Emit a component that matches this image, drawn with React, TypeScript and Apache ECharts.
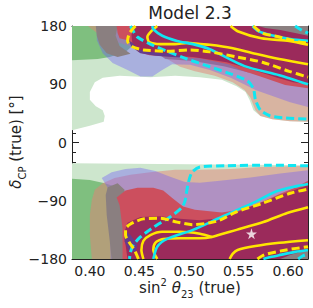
import React, { useEffect, useRef } from 'react';
import * as echarts from 'echarts';

const X_MIN = 0.382;
const X_MAX = 0.62;
const xMajorTicks = [0.4, 0.45, 0.5, 0.55, 0.6];
const xMinorTicks = [0.39, 0.41, 0.42, 0.43, 0.44, 0.46, 0.47, 0.48, 0.49, 0.51, 0.52, 0.53, 0.54, 0.56, 0.57, 0.58, 0.59, 0.61];
const yMin = -180;
const yMax = 180;
const yInterval = 90;

// filled regions (sin^2 theta23, deltaCP)
const lightGreenTop = [[0.382,180],[0.62,180],[0.62,32],[0.602,33],[0.584,36],[0.572,41],[0.565,50],[0.561,66],[0.557,78],[0.548,87],[0.533,97],[0.511,101],[0.486,103],[0.461,101],[0.43,103],[0.413,100],[0.405,93],[0.4,78],[0.4,66],[0.406,56],[0.413,50],[0.415,41],[0.414,32],[0.4,26],[0.382,19]];
const lightGreenBottom = [[0.382,-32],[0.62,-35],[0.62,-180],[0.382,-180]];
const midGreenTop = [[0.382,180],[0.451,180],[0.447,155],[0.436,140],[0.42,132],[0.408,129],[0.382,127]];
const midGreenBottom = [[0.382,-56],[0.4,-58],[0.415,-63],[0.428,-69],[0.436,-81],[0.438,-112],[0.436,-151],[0.435,-180],[0.382,-180]];
const tanTop = [[0.398,180],[0.62,180],[0.62,32],[0.602,33],[0.584,36],[0.572,41],[0.567,50],[0.562,69],[0.556,81],[0.544,93],[0.526,103],[0.506,110],[0.491,117],[0.476,131],[0.456,143],[0.436,151],[0.415,161],[0.405,172]];
const tanBottom = [[0.402,-180],[0.4,-143],[0.4,-112],[0.402,-89],[0.405,-73],[0.413,-63],[0.425,-55],[0.441,-50],[0.461,-46],[0.486,-42],[0.511,-42],[0.542,-41],[0.572,-38],[0.62,-36],[0.62,-180]];
const blueTop = [[0.407,180],[0.62,180],[0.62,55],[0.602,62],[0.582,73],[0.567,81],[0.557,89],[0.542,100],[0.521,112],[0.501,120],[0.483,121],[0.473,112],[0.463,102],[0.451,102],[0.438,112],[0.423,123],[0.413,138],[0.407,158]];
const blueBottom = [[0.412,-55],[0.422,-46],[0.436,-41],[0.451,-39],[0.466,-44],[0.481,-53],[0.496,-61],[0.511,-62],[0.531,-59],[0.562,-54],[0.592,-48],[0.62,-43],[0.62,-180],[0.421,-180],[0.42,-104],[0.418,-70]];
const greyTopLeft = [[0.406,180],[0.428,180],[0.426,165],[0.43,149],[0.441,137],[0.428,132],[0.417,138],[0.41,151],[0.407,165]];
const greyBottomLeft = [[0.418,-69],[0.428,-63],[0.435,-73],[0.435,-180],[0.422,-180],[0.42,-151],[0.417,-112],[0.416,-81]];
const duskTop = [[0.471,135],[0.504,132],[0.538,124],[0.565,112],[0.56,108],[0.535,118],[0.504,126],[0.476,129]];
const redTop = [[0.427,180],[0.62,180],[0.62,84],[0.597,89],[0.572,102],[0.552,112],[0.54,121],[0.511,130],[0.481,133],[0.46,135],[0.449,140],[0.443,150],[0.438,158],[0.43,161],[0.428,169]];
const redBottom = [[0.43,-97],[0.427,-85],[0.436,-74],[0.448,-70],[0.464,-70],[0.474,-74],[0.484,-87],[0.494,-99],[0.506,-104],[0.533,-108],[0.552,-104],[0.572,-93],[0.592,-79],[0.607,-70],[0.62,-59],[0.62,-180],[0.433,-180],[0.433,-133]];
const maroonTop = [[0.444,180],[0.62,180],[0.62,90],[0.605,93],[0.589,100],[0.565,112],[0.538,124],[0.504,132],[0.471,135],[0.449,141],[0.443,151],[0.442,166]];
const maroonBottom = [[0.62,-180],[0.438,-180],[0.436,-158],[0.435,-138],[0.438,-124],[0.451,-115],[0.471,-114],[0.491,-118],[0.511,-120],[0.531,-117],[0.552,-106],[0.572,-93],[0.592,-81],[0.607,-73],[0.62,-66]];
const purpleTop = [[0.439,158],[0.442,148],[0.451,138],[0.466,134],[0.483,132],[0.498,131],[0.483,137],[0.461,140],[0.449,144],[0.443,154]];
const purpleBottom = [[0.435,-135],[0.441,-143],[0.448,-158],[0.446,-169],[0.439,-166],[0.435,-153]];
const greyCornerTop = [[0.57,180],[0.62,180],[0.62,165],[0.607,169],[0.592,174],[0.577,177]];
const greyCornerBottom = [[0.592,-180],[0.602,-174],[0.612,-169],[0.62,-166],[0.62,-180]];

// contour lines
const yellowSolidTop = [[0.468,180],[0.462,172],[0.458,163],[0.46,155],[0.471,152],[0.486,152],[0.498,154],[0.511,152],[0.521,151],[0.543,146],[0.567,137],[0.591,129],[0.62,121]];
const yellowSolidTopRight = [[0.542,180],[0.549,172],[0.573,161],[0.601,157],[0.62,151]];
const yellowSolidBottomRight = [[0.541,-180],[0.544,-172],[0.549,-166],[0.567,-160],[0.591,-155],[0.62,-151]];
const yellowSolidBottomOuter = [[0.454,-180],[0.452,-166],[0.454,-152],[0.461,-143],[0.473,-138],[0.491,-138],[0.511,-141],[0.523,-146]];
const yellowSolidBottomInner = [[0.468,-180],[0.464,-166],[0.466,-155],[0.474,-149],[0.491,-148],[0.511,-148],[0.523,-146],[0.548,-135],[0.575,-123],[0.599,-109],[0.62,-100]];
const yellowDashedTop = [[0.446,180],[0.44,169],[0.438,157],[0.443,148],[0.454,143],[0.478,141],[0.501,143],[0.521,140],[0.549,132],[0.574,124],[0.601,110],[0.62,101]];
const yellowDashedTopRight = [[0.565,180],[0.574,169],[0.591,163],[0.612,155],[0.62,154]];
const yellowDashedBottomRight = [[0.569,-180],[0.574,-175],[0.579,-172],[0.598,-166],[0.62,-161]];
const yellowDashedBottom = [[0.449,-180],[0.445,-166],[0.44,-155],[0.436,-143],[0.436,-134],[0.441,-126],[0.454,-118],[0.471,-117],[0.488,-123],[0.504,-127],[0.521,-124],[0.531,-120],[0.548,-107],[0.572,-95],[0.603,-78],[0.62,-72]];
const cyanDashedTop = [[0.441,180],[0.443,174],[0.448,163],[0.461,152],[0.478,141],[0.498,129],[0.521,117],[0.542,106],[0.559,95],[0.565,83],[0.567,66],[0.572,50],[0.582,41],[0.597,38],[0.62,36]];
const cyanDashedBottom = [[0.62,-36],[0.582,-35],[0.538,-36],[0.511,-38],[0.503,-46],[0.499,-64],[0.496,-90],[0.493,-100],[0.481,-115],[0.464,-131],[0.451,-146],[0.444,-158],[0.441,-169],[0.44,-180]];
const cyanDashedCornerTop = [[0.607,180],[0.612,175],[0.617,171],[0.62,169]];
const cyanDashedCornerBottom = [[0.61,-180],[0.615,-175],[0.62,-172]];
const cyanSolidTop = [[0.463,180],[0.464,175],[0.473,165],[0.488,157],[0.504,152],[0.521,144],[0.556,118],[0.591,104],[0.62,90]];
const cyanSolidBottom = [[0.464,-180],[0.468,-161],[0.478,-149],[0.504,-135],[0.53,-117],[0.565,-93],[0.589,-75],[0.61,-67],[0.62,-64]];
const cyanSolidTopRight = [[0.564,180],[0.57,172],[0.582,166],[0.602,160],[0.62,157]];
const cyanSolidBottomRight = [[0.575,-180],[0.582,-177],[0.591,-174],[0.607,-169],[0.62,-166]];

const bestFit = [[0.563, -141]];

const LG = '#cde6cd';
const MG = '#7fbf7f';
const TAN = 'rgba(228,129,118,0.5)';
const BLUE = 'rgba(110,90,250,0.38)';
const GREY = '#8a7f80';
const DUSK = 'rgba(120,80,130,0.55)';
const RED = '#cc4f5e';
const MAROON = '#9b2a5b';
const PURPLE = '#653b8c';
const YELLOW = '#ffe600';
const CYAN = '#10e6f2';
const FONT = 'DejaVu Sans';
const INK = '#222';

const regions = [
  { pts: lightGreenTop, fill: LG },
  { pts: lightGreenBottom, fill: LG },
  { pts: midGreenTop, fill: MG },
  { pts: midGreenBottom, fill: MG },
  { pts: tanTop, fill: TAN },
  { pts: tanBottom, fill: TAN },
  { pts: blueTop, fill: BLUE },
  { pts: blueBottom, fill: BLUE },
  { pts: greyTopLeft, fill: GREY },
  { pts: greyBottomLeft, fill: GREY },
  { pts: duskTop, fill: DUSK },
  { pts: redTop, fill: RED },
  { pts: redBottom, fill: RED },
  { pts: maroonTop, fill: MAROON },
  { pts: maroonBottom, fill: MAROON },
  { pts: purpleTop, fill: PURPLE },
  { pts: purpleBottom, fill: PURPLE },
  { pts: greyCornerTop, fill: GREY },
  { pts: greyCornerBottom, fill: GREY },
];

const lines = [
  { pts: yellowSolidTop, color: YELLOW, dashed: false },
  { pts: yellowSolidTopRight, color: YELLOW, dashed: false },
  { pts: yellowSolidBottomRight, color: YELLOW, dashed: false },
  { pts: yellowSolidBottomOuter, color: YELLOW, dashed: false },
  { pts: yellowSolidBottomInner, color: YELLOW, dashed: false },
  { pts: cyanDashedTop, color: CYAN, dashed: true },
  { pts: cyanDashedBottom, color: CYAN, dashed: true },
  { pts: cyanDashedCornerTop, color: CYAN, dashed: true },
  { pts: cyanDashedCornerBottom, color: CYAN, dashed: true },
  { pts: cyanSolidTop, color: CYAN, dashed: false },
  { pts: cyanSolidBottom, color: CYAN, dashed: false },
  { pts: cyanSolidTopRight, color: CYAN, dashed: false },
  { pts: cyanSolidBottomRight, color: CYAN, dashed: false },
  { pts: yellowDashedTop, color: YELLOW, dashed: true },
  { pts: yellowDashedTopRight, color: YELLOW, dashed: true },
  { pts: yellowDashedBottomRight, color: YELLOW, dashed: true },
  { pts: yellowDashedBottom, color: YELLOW, dashed: true },
];

const STAR = 'path://M50,0 L61,35 L98,35 L68,57 L79,91 L50,70 L21,91 L32,57 L2,35 L39,35 Z';

export default function App() {
  const ref = useRef<HTMLDivElement>(null);
  useEffect(() => {
    if (!ref.current) return;
    const chart = echarts.init(ref.current, undefined, { renderer: 'svg' });
    const axisLine = { show: true, onZero: false, lineStyle: { color: INK, width: 1 } };
    const noLine = { show: false, onZero: false };
    const tickStyle = { color: INK, width: 1 };
    const fmtY = (v: number) => (v < 0 ? '\u2212' + Math.abs(v) : String(v));
    const xBase = { type: 'value', min: X_MIN, max: X_MAX, splitLine: { show: false } };
    const yBase = { type: 'value', min: yMin, max: yMax, interval: yInterval, splitLine: { show: false } };
    chart.setOption({
      animation: false,
      backgroundColor: '#fff',
      grid: { left: 72, top: 26, right: 5, bottom: 49, containLabel: false },
      xAxis: [
        { ...xBase, position: 'bottom', axisLine,
          axisTick: { show: true, inside: true, length: 7, customValues: xMajorTicks, lineStyle: tickStyle },
          axisLabel: { show: true, customValues: xMajorTicks, formatter: (v: number) => v.toFixed(2), margin: 5, fontSize: 14, fontFamily: FONT, color: INK } },
        { ...xBase, position: 'top', axisLine,
          axisTick: { show: true, inside: true, length: 7, customValues: xMajorTicks, lineStyle: tickStyle },
          axisLabel: { show: false } },
        { ...xBase, position: 'bottom', axisLine: noLine,
          axisTick: { show: true, inside: true, length: 4, customValues: xMinorTicks, lineStyle: tickStyle },
          axisLabel: { show: false } },
        { ...xBase, position: 'top', axisLine: noLine,
          axisTick: { show: true, inside: true, length: 4, customValues: xMinorTicks, lineStyle: tickStyle },
          axisLabel: { show: false } },
      ],
      yAxis: [
        { ...yBase, position: 'left', axisLine,
          axisTick: { show: true, inside: true, length: 7, lineStyle: tickStyle },
          minorTick: { show: true, splitNumber: 6, length: 4, lineStyle: tickStyle },
          axisLabel: { show: true, formatter: fmtY, margin: 5, fontSize: 14, fontFamily: FONT, color: INK } },
        { ...yBase, position: 'right', axisLine,
          axisTick: { show: true, inside: true, length: 7, lineStyle: tickStyle },
          minorTick: { show: true, splitNumber: 6, length: 4, lineStyle: tickStyle },
          axisLabel: { show: false } },
      ],
      graphic: [
        { type: 'text', x: 190, y: 13, silent: true,
          style: { text: 'Model 2.3', fontSize: 17, fontFamily: FONT, fill: INK, align: 'center', verticalAlign: 'middle' } },
        { type: 'text', x: 190, y: 288, silent: true,
          style: {
            text: '{n|sin}{sup|2}{n| }{i|\u03b8}{sub|23}{n| (true)}',
            align: 'center', verticalAlign: 'middle', fill: INK, fontFamily: FONT,
            rich: {
              n: { fontSize: 15, fontFamily: FONT, fill: INK, lineHeight: 22 },
              i: { fontSize: 15, fontFamily: FONT, fontStyle: 'italic', fill: INK, lineHeight: 22 },
              sup: { fontSize: 10, fontFamily: FONT, fill: INK, verticalAlign: 'top', lineHeight: 22 },
              sub: { fontSize: 10, fontFamily: FONT, fill: INK, verticalAlign: 'bottom', lineHeight: 22 },
            },
          } },
        { type: 'text', x: 16, y: 142, rotation: Math.PI / 2, silent: true,
          style: {
            text: '{i|\u03b4}{sub|CP}{n| (true) [\u00b0]}',
            align: 'center', verticalAlign: 'middle', fill: INK, fontFamily: FONT,
            rich: {
              n: { fontSize: 15, fontFamily: FONT, fill: INK, lineHeight: 22 },
              i: { fontSize: 15, fontFamily: FONT, fontStyle: 'italic', fill: INK, lineHeight: 22 },
              sub: { fontSize: 10, fontFamily: FONT, fill: INK, verticalAlign: 'bottom', lineHeight: 22 },
            },
          } },
      ],
      series: [
        {
          type: 'custom',
          xAxisIndex: 0, yAxisIndex: 0,
          clip: true,
          silent: true,
          data: regions.map(() => [0.5, 0]),
          renderItem: (params: any, api: any) => {
            const r = regions[params.dataIndex];
            return {
              type: 'polygon',
              shape: { points: r.pts.map((p) => api.coord(p)) },
              style: { fill: r.fill, stroke: 'none' },
            };
          },
          z: 1,
        },
        ...lines.map((l) => ({
          type: 'line',
          xAxisIndex: 0, yAxisIndex: 0,
          data: l.pts,
          showSymbol: false,
          symbol: 'none',
          smooth: 0.25,
          silent: true,
          clip: true,
          z: 3,
          lineStyle: { color: l.color, width: l.dashed ? 3 : 2.6, type: l.dashed ? [8, 4] : 'solid', cap: 'butt' },
        })),
        {
          type: 'scatter',
          xAxisIndex: 0, yAxisIndex: 0,
          data: bestFit,
          symbol: STAR,
          symbolSize: 11,
          itemStyle: { color: '#ffffff' },
          silent: true,
          z: 5,
        },
      ],
    });
    return () => chart.dispose();
  }, []);
  return <div ref={ref} style={{ position: 'fixed', left: 0, top: 0, width: 313, height: 308 }} />;
}
